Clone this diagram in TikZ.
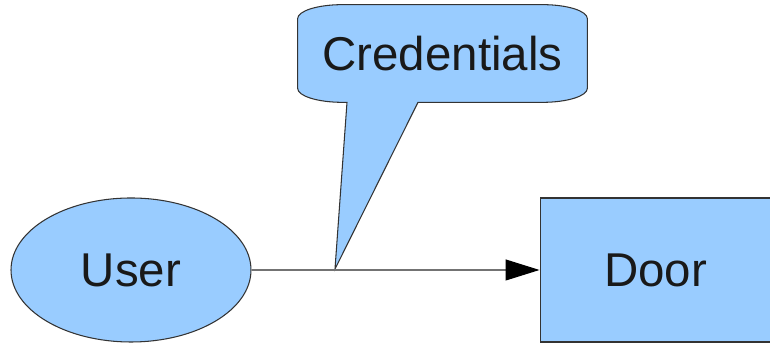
\documentclass[tikz,border=0pt]{standalone}
\usepackage{fontspec}
\setmainfont{Liberation Sans}
\usetikzlibrary{arrows.meta,shapes.geometric,positioning,backgrounds}
\definecolor{boxblue}{HTML}{99CCFF}
\tikzset{
  basic/.style  = {draw=black!80, fill=boxblue, line width=0.6pt, inner sep=0pt,
                   font=\fontsize{27}{32}\selectfont, text=black!90},
  actor/.style  = {basic, ellipse, minimum width=4.8cm, minimum height=2.88cm},
  target/.style = {basic, rectangle, minimum width=4.7cm, minimum height=2.88cm},
  bubble/.style = {inner sep=0pt, minimum width=5.78cm, minimum height=1.94cm,
                   font=\fontsize{27}{32}\selectfont, text=black!90},
  callout/.style = {draw=black!80, fill=boxblue, line width=0.6pt},
  flow/.style   = {draw=black!55, line width=0.6pt,
                   -{Triangle[length=6.8mm, width=4.2mm, color=black]}}
}
\newcommand{\rx}{0.9cm}
\newcommand{\ry}{0.28cm}

\begin{document}
\begin{tikzpicture}
\useasboundingbox (0,0) rectangle (15.4,6.94);

% the two ends of the flow
\node[actor] (user) at (2.62,1.54) {User};
\node[target, right=5.76cm of user] (door) {\hspace*{-0.08cm}Door};

% the message between them
\draw[flow] (user.east) -- (door.west);

% speech bubble, text first, outline behind it
\node[bubble] (cred) at (8.85,5.87) {Credentials};
\coordinate (tip) at (6.70,1.56);
\coordinate (baseR) at ([xshift=-0.49cm]cred.south);
\coordinate (baseL) at ([xshift=-1.91cm]cred.south);

\begin{scope}[on background layer]
\draw[callout] ([xshift=\rx]cred.north west) -- ([xshift=-\rx]cred.north east)
  arc[start angle=90, end angle=0, x radius=\rx, y radius=\ry]
  -- ([yshift=\ry]cred.south east)
  arc[start angle=0, end angle=-90, x radius=\rx, y radius=\ry]
  -- (baseR) -- (tip) -- (baseL)
  -- ([xshift=\rx]cred.south west)
  arc[start angle=270, end angle=180, x radius=\rx, y radius=\ry]
  -- ([yshift=-\ry]cred.north west)
  arc[start angle=180, end angle=90, x radius=\rx, y radius=\ry]
  -- cycle;
\end{scope}
\end{tikzpicture}
\end{document}
